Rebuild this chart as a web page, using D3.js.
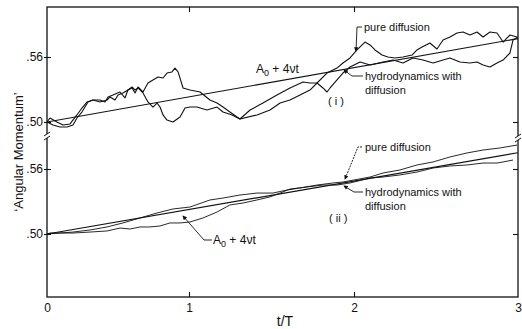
<!DOCTYPE html>
<html><head><meta charset="utf-8">
<script src="https://cdn.jsdelivr.net/npm/d3@7"></script>
<style>body{margin:0;background:#fff}svg{display:block}text{font-family:"Liberation Sans",Arial,sans-serif;fill:#111}</style>
</head><body><svg id="c" width="522" height="329"></svg>
<script>
// ---- data (t/T, angular momentum) ----
const xTicks = [0, 1, 2, 3];
const yTicks = [0.50, 0.56];
const yTickLabels = [".50", ".56"];
const lineUpper = [[0, 0.500], [3, 0.577]];
const lineLower = [[0, 0.500], [3, 0.575]];
const upperA = [[0,.500],[.021,.5037],[.070,.500],[.113,.4972],[.162,.4982],[.211,.5065],[.246,.5129],[.282,.5185],[.324,.5203],[.373,.5185],[.423,.5203],[.444,.5231],[.479,.5203],[.500,.5249],[.535,.5268],[.570,.5295],[.599,.5314],[.620,.5268],[.641,.5323],[.676,.5277],[.711,.5360],[.746,.5388],[.782,.5415],[.817,.5406],[.845,.5452],[.880,.5462],[.901,.5498],[.923,.5462],[.958,.5314],[1.006,.5295],[1.067,.5277],[1.127,.5203],[1.170,.5175],[1.206,.5138],[1.248,.5092],[1.291,.5046],[1.309,.5028],[1.412,.5065],[1.491,.5111],[1.552,.5175],[1.612,.5203],[1.673,.5249],[1.733,.5295],[1.776,.5360],[1.836,.5452],[1.897,.5498],[1.933,.5545],[1.976,.5591],[2.018,.5665],[2.067,.5738],[2.098,.5711],[2.128,.5665],[2.171,.5618],[2.207,.5600],[2.250,.5591],[2.299,.5600],[2.354,.5618],[2.384,.5665],[2.415,.5692],[2.463,.5729],[2.506,.5674],[2.543,.5757],[2.585,.5785],[2.628,.5821],[2.665,.5831],[2.707,.5803],[2.750,.5831],[2.787,.5785],[2.829,.5831],[2.872,.5821],[2.909,.5738],[2.951,.5803],[2.994,.5785]];
const upperB = [[0,.500],[.042,.4972],[.092,.4954],[.141,.4954],[.183,.4972],[.211,.5037],[.246,.5092],[.289,.5185],[.324,.5203],[.373,.5203],[.408,.5185],[.430,.5231],[.465,.5249],[.514,.5277],[.549,.5222],[.570,.5295],[.599,.5323],[.620,.5295],[.641,.5314],[.676,.5268],[.711,.5185],[.746,.5138],[.775,.5175],[.796,.5138],[.817,.5065],[.845,.5018],[.887,.500],[.937,.5046],[.972,.5129],[1.006,.5138],[1.048,.5138],[1.109,.5111],[1.170,.5138],[1.206,.5092],[1.261,.5065],[1.309,.5028],[1.370,.5111],[1.448,.5175],[1.533,.5249],[1.612,.5314],[1.691,.5369],[1.733,.5360],[1.776,.5360],[1.812,.5314],[1.836,.5277],[1.855,.5314],[1.897,.5388],[1.933,.5452],[1.976,.5508],[2.037,.5554],[2.098,.5526],[2.177,.5554],[2.238,.5572],[2.299,.5545],[2.360,.5591],[2.421,.5572],[2.482,.5545],[2.543,.5572],[2.585,.5591],[2.646,.5554],[2.707,.5545],[2.750,.5554],[2.787,.5526],[2.829,.5508],[2.872,.5545],[2.909,.5572],[2.951,.5637],[2.970,.5757],[3.000,.5785]];
const lowerC = [[0,.500],[.183,.5018],[.303,.5037],[.423,.5065],[.535,.5102],[.655,.5148],[.775,.5194],[.887,.5231],[1.006,.5249],[1.127,.5314],[1.206,.5332],[1.309,.5360],[1.412,.5378],[1.509,.5378],[1.594,.5406],[1.673,.5425],[1.776,.5452],[1.873,.5471],[1.933,.5480],[2.098,.5526],[2.177,.5563],[2.280,.5591],[2.384,.5637],[2.482,.5665],[2.585,.5711],[2.689,.5748],[2.787,.5775],[2.890,.5794],[2.994,.5821]];
const lowerD = [[0,.500],[.021,.5009],[.183,.5009],[.303,.5018],[.423,.5028],[.514,.5055],[.585,.5046],[.655,.5065],[.725,.5065],[.796,.5074],[.866,.5102],[.937,.5102],[1.006,.5111],[1.085,.5148],[1.170,.5203],[1.248,.5268],[1.327,.5286],[1.412,.5314],[1.491,.5342],[1.552,.5378],[1.612,.5415],[1.715,.5434],[1.812,.5452],[1.897,.5452],[1.976,.5471],[2.098,.5517],[2.177,.5526],[2.280,.5545],[2.384,.5572],[2.482,.5609],[2.585,.5628],[2.689,.5637],[2.787,.5655],[2.872,.5655],[2.909,.5665],[2.970,.5683]];

// ---- layout ----
const svg = d3.select("#c");
const L = 47, R = 518, T = 7, B = 297, brk = 136;
const x = d3.scaleLinear().domain(xTicks).range([47, 189, 354, 518]);
const yU = d3.scaleLinear().domain([0.50, 0.56]).range([122, 57]);
const yL = d3.scaleLinear().domain([0.50, 0.56]).range([234, 169]);
const ink = "#111";

const defs = svg.append("defs");
defs.append("clipPath").attr("id","cu").append("rect").attr("x",L).attr("y",T).attr("width",R-L).attr("height",brk-T);
defs.append("clipPath").attr("id","cl").append("rect").attr("x",L).attr("y",brk+4).attr("width",R-L).attr("height",B-brk-4);
defs.append("marker").attr("id","ar").attr("viewBox","0 0 6 6").attr("refX",5).attr("refY",3)
  .attr("markerWidth",5).attr("markerHeight",5).attr("orient","auto")
  .append("path").attr("d","M0,0L6,3L0,6Z").attr("fill",ink);

function curve(data, y, clip, w) {
  svg.append("path").datum(data).attr("clip-path", "url(#" + clip + ")")
    .attr("fill","none").attr("stroke",ink).attr("stroke-width",w).attr("stroke-linejoin","round")
    .attr("d", d3.line().x(d => x(d[0])).y(d => y(d[1])));
}
curve(lineUpper, yU, "cu", 1.1);
curve(upperA, yU, "cu", 1.1);
curve(upperB, yU, "cu", 1.1);
curve(lineLower, yL, "cl", 1.2);
curve(lowerC, yL, "cl", 0.9);
curve(lowerD, yL, "cl", 0.9);

// frame
svg.append("rect").attr("x",L).attr("y",T).attr("width",R-L).attr("height",B-T)
  .attr("fill","none").attr("stroke",ink).attr("stroke-width",1.3);

// axes via d3 axis generators
const gx = svg.append("g").attr("transform",`translate(0,${B})`)
  .call(d3.axisTop(x).tickValues([1,2]).tickSize(5).tickFormat(""));
const gxb = svg.append("g").attr("transform",`translate(0,${B})`)
  .call(d3.axisBottom(x).tickValues(xTicks).tickSize(0).tickPadding(6).tickFormat(d3.format("d")));
const gxt = svg.append("g").attr("transform",`translate(0,${T})`)
  .call(d3.axisBottom(x).tickValues([1,2]).tickSize(5).tickFormat(""));
[[yU],[yL]].forEach(([y]) => {
  svg.append("g").attr("transform",`translate(${L+4},0)`)
    .call(d3.axisLeft(y).tickValues(yTicks).tickSize(7).tickPadding(1).tickFormat((d,i)=>yTickLabels[i]));
  svg.append("g").attr("transform",`translate(${R},0)`)
    .call(d3.axisLeft(y).tickValues(yTicks).tickSize(5).tickFormat(""));
});
svg.selectAll(".domain").remove();
svg.selectAll(".tick line").attr("stroke",ink).attr("stroke-width",1.1);
svg.selectAll(".tick text").attr("font-size",12).attr("fill",ink).style("font-family","Liberation Sans, Arial, sans-serif");

// axis breaks
[[L, brk], [R, brk + 2]].forEach(([bx, by]) => {
  svg.append("rect").attr("x",bx-3).attr("y",by-2).attr("width",6).attr("height",4).attr("fill","#fff");
  [-2, 2].forEach(o => svg.append("line").attr("x1",bx-3).attr("y1",by+o+2).attr("x2",bx+3).attr("y2",by+o-2)
    .attr("stroke",ink).attr("stroke-width",1));
});

// axis titles
svg.append("text").attr("x",285).attr("y",326).attr("text-anchor","middle").attr("font-size",14).text("t/T");
svg.append("text").attr("transform","translate(23,152) rotate(-90)").attr("text-anchor","middle")
  .attr("font-size",13).text("\u2018Angular Momentum\u2019");

// annotations
function aoText(tx, ty) {
  const t = svg.append("text").attr("x",tx).attr("y",ty).attr("font-size",12);
  t.append("tspan").text("A");
  t.append("tspan").attr("font-size",9).attr("dy",3).text("0");
  t.append("tspan").attr("dy",-3).text(" + 4\u03bdt");
}
aoText(256, 73);
aoText(213, 244);
const ann = (tx, ty, s, fs) => svg.append("text").attr("x",tx).attr("y",ty).attr("font-size",fs||11).text(s);
ann(328, 105, "( i )", 11);
ann(329, 222, "( ii )", 11);
ann(364, 31, "pure diffusion");
ann(365, 80, "hydrodynamics with");
ann(365, 94, "diffusion");
ann(365, 151, "pure diffusion");
ann(365, 196, "hydrodynamics with");
ann(365, 210, "diffusion");

const lead = (pts, arrow, dash) => svg.append("path").attr("d", d3.line()(pts)).attr("fill","none")
  .attr("stroke",ink).attr("stroke-width",0.9).attr("stroke-dasharray",dash||null)
  .attr("marker-end", arrow ? "url(#ar)" : null);
lead([[362,27],[357,27],[356,51]], true);
lead([[363,76],[352,76],[344,70]], true);
lead([[362,147],[358,147],[345,179]], true, "2,1");
lead([[363,192],[354,192],[344,186]], true);
lead([[212,240],[204,240],[183,216]], true);
</script></body></html>
